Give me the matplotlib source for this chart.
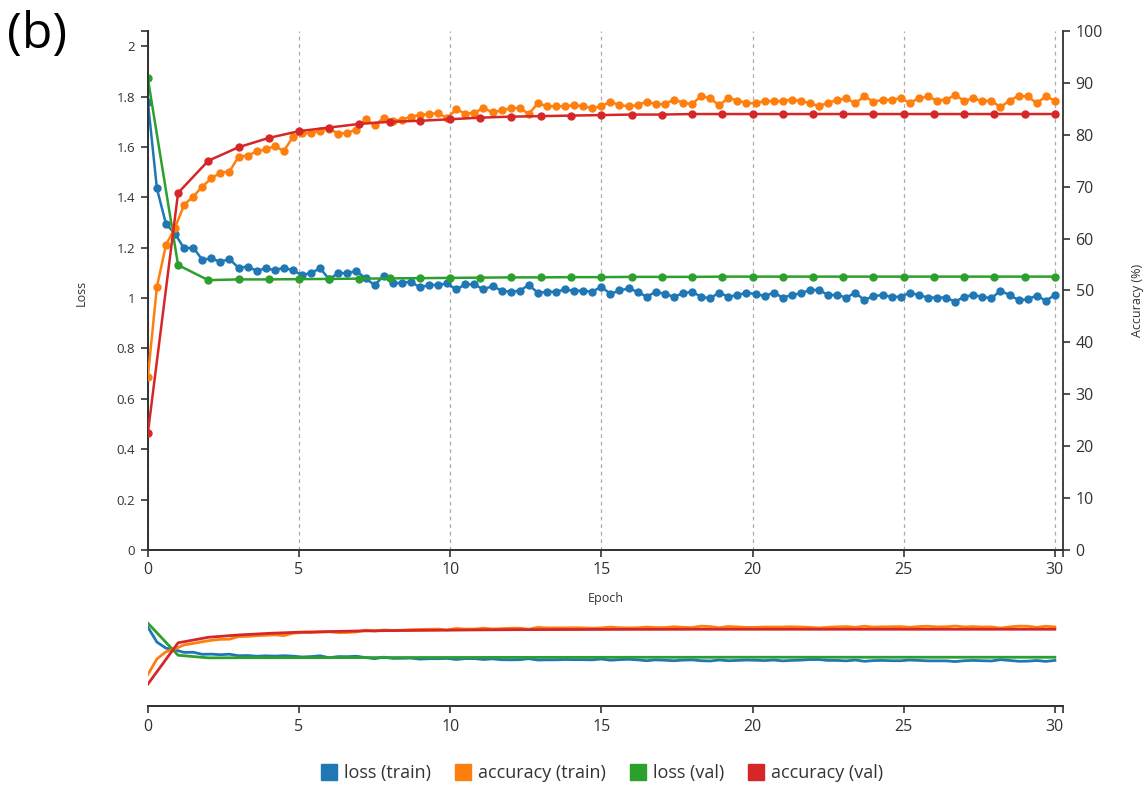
import matplotlib
matplotlib.use("Agg")
import matplotlib.pyplot as plt
from matplotlib.lines import Line2D
import numpy as np

plt.rcParams['font.family'] = ['Open Sans', 'DejaVu Sans']

# epochs: train logged every 0.3 epoch, val once per epoch
epoch_train = np.linspace(0, 30, 101)
epoch_val = np.arange(0, 31)

loss_train = [
    1.780, 1.435, 1.294, 1.255, 1.197, 1.200, 1.153, 1.157, 1.144, 1.155,
    1.120, 1.125, 1.108, 1.118, 1.111, 1.120, 1.110, 1.091, 1.100, 1.118,
    1.074, 1.100, 1.098, 1.108, 1.078, 1.052, 1.087, 1.058, 1.061, 1.065,
    1.042, 1.052, 1.052, 1.058, 1.034, 1.054, 1.054, 1.034, 1.048, 1.029,
    1.025, 1.029, 1.052, 1.021, 1.025, 1.025, 1.034, 1.029, 1.029, 1.025,
    1.045, 1.016, 1.030, 1.038, 1.025, 1.005, 1.025, 1.016, 1.005, 1.019,
    1.025, 1.005, 0.999, 1.022, 1.005, 1.012, 1.021, 1.016, 1.008, 1.021,
    1.002, 1.012, 1.019, 1.032, 1.032, 1.012, 1.012, 1.002, 1.021, 0.992,
    1.008, 1.012, 1.005, 1.005, 1.021, 1.012, 1.002, 1.002, 1.002, 0.985,
    1.005, 1.012, 1.005, 0.999, 1.029, 1.012, 0.992, 0.995, 1.010, 0.989,
    1.012]

acc_train = [
    33.3, 50.7, 58.8, 62.1, 66.5, 68.1, 70.0, 71.6, 72.7, 72.9,
    75.8, 76.0, 76.8, 77.2, 77.8, 76.9, 79.6, 80.3, 80.3, 80.8,
    81.2, 80.2, 80.4, 81.0, 83.0, 81.9, 83.2, 82.7, 82.9, 83.5,
    83.8, 84.0, 84.2, 83.2, 84.9, 84.1, 84.2, 85.2, 84.3, 84.7,
    85.1, 85.2, 84.0, 86.1, 85.5, 85.5, 85.5, 85.7, 85.5, 85.1,
    85.5, 86.4, 85.7, 85.5, 85.7, 86.4, 85.9, 85.9, 86.8, 86.2,
    85.9, 87.5, 87.0, 85.7, 87.1, 86.6, 86.1, 86.1, 86.5, 86.5,
    86.5, 86.8, 86.5, 86.1, 85.5, 86.2, 86.7, 87.0, 86.1, 87.4,
    86.4, 86.7, 86.8, 87.0, 86.2, 87.0, 87.4, 86.6, 86.8, 87.6,
    86.6, 87.0, 86.5, 86.6, 85.3, 86.6, 87.5, 87.4, 86.1, 87.4,
    86.6]

loss_val = [1.872, 1.131, 1.071, 1.074, 1.074, 1.075, 1.076, 1.077, 1.078, 1.079,
            1.080, 1.081, 1.082, 1.082, 1.083, 1.083, 1.084, 1.084, 1.084, 1.085,
            1.085, 1.085, 1.085, 1.085, 1.085, 1.085, 1.085, 1.085, 1.085, 1.085,
            1.085]

acc_val = [22.5, 68.8, 75.0, 77.6, 79.4, 80.7, 81.4, 82.1, 82.5, 82.7,
           83.0, 83.3, 83.5, 83.6, 83.7, 83.8, 83.9, 83.9, 84.0, 84.0,
           84.0, 84.0, 84.0, 84.0, 84.0, 84.0, 84.0, 84.0, 84.0, 84.0,
           84.0]

labels = ['loss (train)', 'accuracy (train)', 'loss (val)', 'accuracy (val)']
colors = ['#1f77b4', '#ff7f0e', '#2ca02c', '#d62728']
ink = '#333333'
xmax = 30.27
loss_max = 2.06

fig = plt.figure(figsize=(11.46, 7.85), dpi=100)
ax = fig.add_axes([0.129, 0.2994, 0.7986, 0.6611])
ax2 = ax.twinx()

# main chart
ax.plot(epoch_train, loss_train, '-o', color=colors[0], lw=1.8, ms=5, zorder=3)
ax.plot(epoch_val, loss_val, '-o', color=colors[2], lw=1.8, ms=5, zorder=4)
ax2.plot(epoch_train, acc_train, '-o', color=colors[1], lw=1.8, ms=5, zorder=3)
ax2.plot(epoch_val, acc_val, '-o', color=colors[3], lw=1.8, ms=5, zorder=4)

ax.set_xlim(0, xmax)
ax.set_ylim(0, loss_max)
ax2.set_ylim(0, 100)
ax.set_xticks(range(0, 31, 5))
ax.set_xticks([xmax], minor=True)
ax.set_yticks(np.arange(0, 2.01, 0.2))
ax.set_yticks([loss_max], minor=True)
ax.set_yticklabels(['0'] + ['%.1f' % v for v in np.arange(0.2, 0.99, 0.2)] + ['1']
                   + ['%.1f' % v for v in np.arange(1.2, 1.99, 0.2)] + ['2'])
ax2.set_yticks(range(0, 101, 10))
ax.grid(axis='x', linestyle=(0, (3, 3)), color='#aaaaaa', lw=0.9)

for a in (ax, ax2):
    a.spines['top'].set_visible(False)
    for s in a.spines.values():
        s.set_color(ink)
        s.set_linewidth(1.3)
    a.tick_params(which='both', direction='out', length=5, width=1.2, color=ink, labelcolor=ink)
ax.spines['right'].set_visible(False)
ax.tick_params(axis='y', labelsize=9.5, pad=4)
ax.tick_params(axis='x', labelsize=11.5, pad=4)
ax2.tick_params(axis='y', labelsize=11.5, pad=4)

ax.set_xlabel('Epoch', fontsize=9, color=ink)
ax.xaxis.set_label_coords(0.5, -0.081)
ax.set_ylabel('Loss', fontsize=9, color=ink)
ax.yaxis.set_label_coords(-0.0656, 0.495)
ax2.set_ylabel('Accuracy (%)', fontsize=9, color=ink)
ax2.yaxis.set_label_coords(1.074, 0.48)

# overview strip
ov = fig.add_axes([0.129, 0.1006, 0.7986, 0.116])
ov2 = ov.twinx()
ov.plot(epoch_train, loss_train, color=colors[0], lw=2)
ov.plot(epoch_val, loss_val, color=colors[2], lw=2)
ov2.plot(epoch_train, acc_train, color=colors[1], lw=2)
ov2.plot(epoch_val, acc_val, color=colors[3], lw=2)
ov.set_xlim(0, xmax)
ov.set_ylim(-0.04, loss_max)
ov2.set_ylim(-2, 100)
ov.set_xticks(range(0, 31, 5))
ov.set_xticks([xmax], minor=True)
ov.set_yticks([])
ov2.set_yticks([])
for a in (ov, ov2):
    for side in ('top', 'left', 'right'):
        a.spines[side].set_visible(False)
    a.spines['bottom'].set_color(ink)
    a.spines['bottom'].set_linewidth(1.3)
ov.tick_params(axis='x', which='both', direction='out', length=5, width=1.2,
               color=ink, labelcolor=ink, labelsize=11.5, pad=4)

# legend
handles = [Line2D([], [], ls='', marker='s', ms=12, color=c) for c in colors]
fig.legend(handles, labels, loc='center', bbox_to_anchor=(0.525, 0.015), ncol=4,
           frameon=False, fontsize=13, handletextpad=0.3, columnspacing=1.3,
           handlelength=1.0, labelcolor=ink)

fig.text(0.006, 0.955, '(b)', fontsize=36, va='center', ha='left', color='black')

fig.savefig('out.png', dpi=100)
